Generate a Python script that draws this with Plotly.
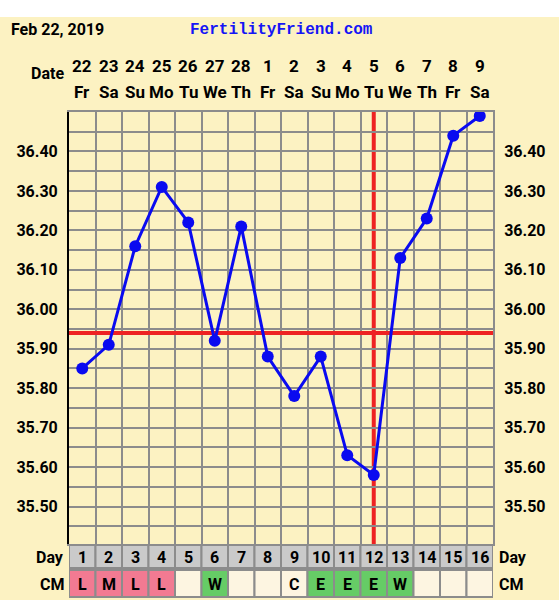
"""Fertility chart (BBT) recreated with Plotly."""

import plotly.graph_objects as go

# Chart data
days = list(range(1, 17))
dates = ['22', '23', '24', '25', '26', '27', '28', '1',
         '2', '3', '4', '5', '6', '7', '8', '9']
weekdays = ['Fr', 'Sa', 'Su', 'Mo', 'Tu', 'We', 'Th', 'Fr',
            'Sa', 'Su', 'Mo', 'Tu', 'We', 'Th', 'Fr', 'Sa']
temps = [35.85, 35.91, 36.16, 36.31, 36.22, 35.92, 36.21, 35.88,
         35.78, 35.88, 35.63, 35.58, 36.13, 36.23, 36.44, 36.49]
cm = ['L', 'M', 'L', 'L', '', 'W', '', '', 'C', 'E', 'E', 'E', 'W', '', '', '']
temp_ticks = [35.50, 35.60, 35.70, 35.80, 35.90, 36.00, 36.10, 36.20, 36.30, 36.40]
minor_ticks = [35.45, 35.55, 35.65, 35.75, 35.85, 35.95, 36.05, 36.15, 36.25, 36.35, 36.45]
coverline = 35.94
ovulation_day = 12
chart_date = 'Feb 22, 2019'
site = 'FertilityFriend.com'

CREAM = '#FCF2C2'
GRID = '#8C8C8C'
CM_COLORS = {'L': '#F27A92', 'M': '#F27A92', 'W': '#66CC66', 'E': '#66CC66'}
CM_EMPTY = '#FDF5E1'

# Layout geometry (pixels)
W, H = 559, 600
M_L, M_R, M_T, M_B = 69, 66, 112, 56
PLOT_H = H - M_T - M_B
PLOT_W = W - M_L - M_R


def py(pix):
    """Pixel row -> paper y."""
    return (H - M_B - pix) / PLOT_H


def px(pix):
    """Pixel column -> paper x."""
    return (pix - M_L) / PLOT_W


bold = dict(family='Roboto, Arial, sans-serif', size=16, color='black', weight='bold')

fig = go.Figure()

fig.add_trace(go.Scatter(
    x=days, y=temps,
    mode='lines+markers',
    line=dict(color='#0A0AF0', width=3),
    marker=dict(color='#0A0AF0', size=12),
    showlegend=False,
    hovertemplate='Day %{x}: %{y:.2f}<extra></extra>',
))

# invisible trace so the right-hand axis is drawn
fig.add_trace(go.Scatter(
    x=days, y=temps, yaxis='y2', mode='markers',
    marker=dict(opacity=0), showlegend=False, hoverinfo='skip',
))

shapes = []
# cream background below the white top strip
shapes.append(dict(type='rect', xref='paper', yref='paper',
                   x0=px(0), x1=px(W), y0=py(H), y1=py(17),
                   fillcolor=CREAM, line=dict(width=0), layer='below'))

# coverline and ovulation line
shapes.append(dict(type='line', xref='x', yref='y',
                   x0=0.5, x1=16.5, y0=coverline, y1=coverline,
                   line=dict(color='#EE2222', width=4), layer='between'))
shapes.append(dict(type='line', xref='x', yref='paper',
                   x0=ovulation_day, x1=ovulation_day, y0=0, y1=1,
                   line=dict(color='#EE2222', width=4), layer='between'))

annotations = []

# Day and CM rows
for d, c in zip(days, cm):
    shapes.append(dict(type='rect', xref='x', yref='paper',
                       x0=d - 0.5, x1=d + 0.5, y0=py(568), y1=py(545),
                       fillcolor='#CACACA', line=dict(color=GRID, width=2)))
    shapes.append(dict(type='rect', xref='x', yref='paper',
                       x0=d - 0.5, x1=d + 0.5, y0=py(597), y1=py(570),
                       fillcolor=CM_COLORS.get(c, CM_EMPTY), line=dict(color=GRID, width=2)))
    annotations.append(dict(x=d, y=py(557), xref='x', yref='paper', text=str(d),
                            showarrow=False, font=bold, yanchor='middle'))
    if c:
        annotations.append(dict(x=d, y=py(584), xref='x', yref='paper', text=c,
                                showarrow=False, font=bold, yanchor='middle'))

# date header
for d, dt, wd in zip(days, dates, weekdays):
    annotations.append(dict(x=d, y=py(65.5), xref='x', yref='paper', text=dt,
                            showarrow=False, font=dict(bold, size=17), yanchor='middle'))
    annotations.append(dict(x=d, y=py(91.5), xref='x', yref='paper', text=wd,
                            showarrow=False, font=dict(bold, size=17), yanchor='middle'))

annotations += [
    dict(x=px(66), y=py(73), text='Date', xanchor='right'),
    dict(x=px(66), y=py(557), text='Day', xanchor='right'),
    dict(x=px(66), y=py(584), text='CM', xanchor='right'),
    dict(x=px(497), y=py(557), text='Day', xanchor='left'),
    dict(x=px(497), y=py(584), text='CM', xanchor='left'),
    dict(x=px(9), y=py(29), text=chart_date, xanchor='left'),
]
for a in annotations[-6:]:
    a.update(xref='paper', yref='paper', showarrow=False, font=bold, yanchor='middle')

annotations.append(dict(
    x=px(281.5), y=py(30), xref='paper', yref='paper', text=site,
    showarrow=False, xanchor='center', yanchor='middle',
    font=dict(family='Courier New, Liberation Mono, monospace', size=16,
              color='#1515F5', weight='bold'),
))

yrange = [35.405, 36.50]

fig.update_layout(
    width=W, height=H,
    margin=dict(l=M_L, r=M_R, t=M_T, b=M_B),
    paper_bgcolor='white',
    plot_bgcolor=CREAM,
    shapes=shapes,
    annotations=annotations,
    xaxis=dict(
        range=[0.5, 16.5],
        tickvals=[d - 0.5 for d in days] + [16.5],
        showticklabels=False, ticks='',
        showgrid=True, gridcolor=GRID, gridwidth=2,
        showline=True, linecolor=GRID, linewidth=2, mirror=True,
        zeroline=False, fixedrange=True,
    ),
    yaxis=dict(
        range=yrange,
        tickvals=temp_ticks,
        tickformat='.2f',
        tickfont=bold,
        ticks='', ticklabelstandoff=6,
        showgrid=True, gridcolor=GRID, gridwidth=2,
        minor=dict(tickvals=minor_ticks, showgrid=True, gridcolor=GRID, gridwidth=2),
        showline=True, linecolor='black', linewidth=2,
        zeroline=False, fixedrange=True,
    ),
    yaxis2=dict(
        range=yrange,
        overlaying='y', side='right',
        tickvals=temp_ticks,
        tickformat='.2f',
        tickfont=bold,
        ticks='', ticklabelstandoff=6,
        showgrid=False,
        showline=True, linecolor=GRID, linewidth=2,
        zeroline=False, fixedrange=True,
    ),
)

# drop the default page margin so the figure sits at the window's corner
fig.write_html('out.html', config={'displayModeBar': False},
               post_script="document.body.style.margin='0';")
